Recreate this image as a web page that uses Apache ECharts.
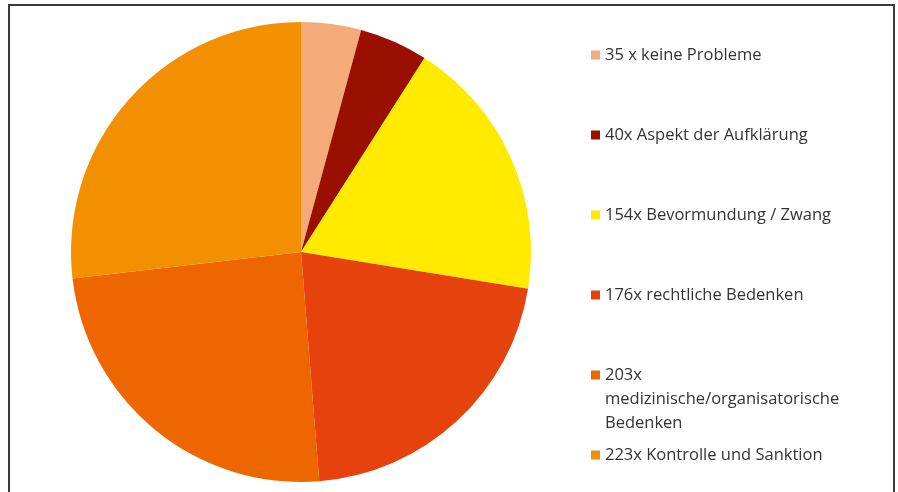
<!DOCTYPE html>
<html>
<head>
<meta charset="utf-8">
<script src="https://cdn.jsdelivr.net/npm/echarts@6/dist/echarts.min.js"></script>
<style>
  html, body { margin: 0; padding: 0; background: #ffffff; }
  #chart { width: 898px; height: 492px; }
</style>
</head>
<body>
<div id="chart"></div>
<script>
// Gründe / Bedenken – Anzahl der Nennungen
const categories = [
  '35 x keine Probleme',
  '40x Aspekt der Aufklärung',
  '154x Bevormundung / Zwang',
  '176x rechtliche Bedenken',
  '203x\nmedizinische/organisatorische\nBedenken',
  '223x Kontrolle und Sanktion'
];
const counts = [35, 40, 154, 176, 203, 223];
const colors = ['#F5AA7A', '#9A1000', '#FFEA00', '#E6420D', '#EE6600', '#F29000'];

const fontFamily = '"Open Sans", Lato, sans-serif';
const legendText = {
  color: '#333333',
  fontSize: 16.5,
  fontFamily: fontFamily,
  lineHeight: 24
};

const pieData = categories.map((name, i) => ({
  name: name,
  value: counts[i],
  itemStyle: { color: colors[i] }
}));

const baseLegend = {
  orient: 'vertical',
  left: 591,
  padding: 0,
  icon: 'rect',
  itemWidth: 9,
  itemHeight: 9,
  itemGap: 56,
  selectedMode: false,
  textStyle: legendText
};

const chart = echarts.init(document.getElementById('chart'), null, { renderer: 'canvas' });
chart.setOption({
  animation: false,
  backgroundColor: '#ffffff',
  legend: [
    Object.assign({}, baseLegend, {
      top: 43,
      data: categories.slice(0, 4)
    }),
    // multi-line entry: two blank lines on top keep the marker beside the first line
    Object.assign({}, baseLegend, {
      top: 315,
      data: [categories[4]],
      formatter: name => '\n\n' + name
    }),
    Object.assign({}, baseLegend, {
      top: 443,
      data: [categories[5]]
    })
  ],
  graphic: [{
    type: 'rect',
    shape: { x: 9, y: 5, width: 885, height: 520 },
    style: { fill: 'none', stroke: '#3a3a3a', lineWidth: 2 },
    silent: true,
    z: 100
  }],
  series: [{
    type: 'pie',
    center: [301, 252],
    radius: 230,
    startAngle: 90,
    clockwise: true,
    label: { show: false },
    labelLine: { show: false },
    emphasis: { disabled: true },
    itemStyle: { borderWidth: 0 },
    data: pieData
  }]
});
</script>
</body>
</html>
